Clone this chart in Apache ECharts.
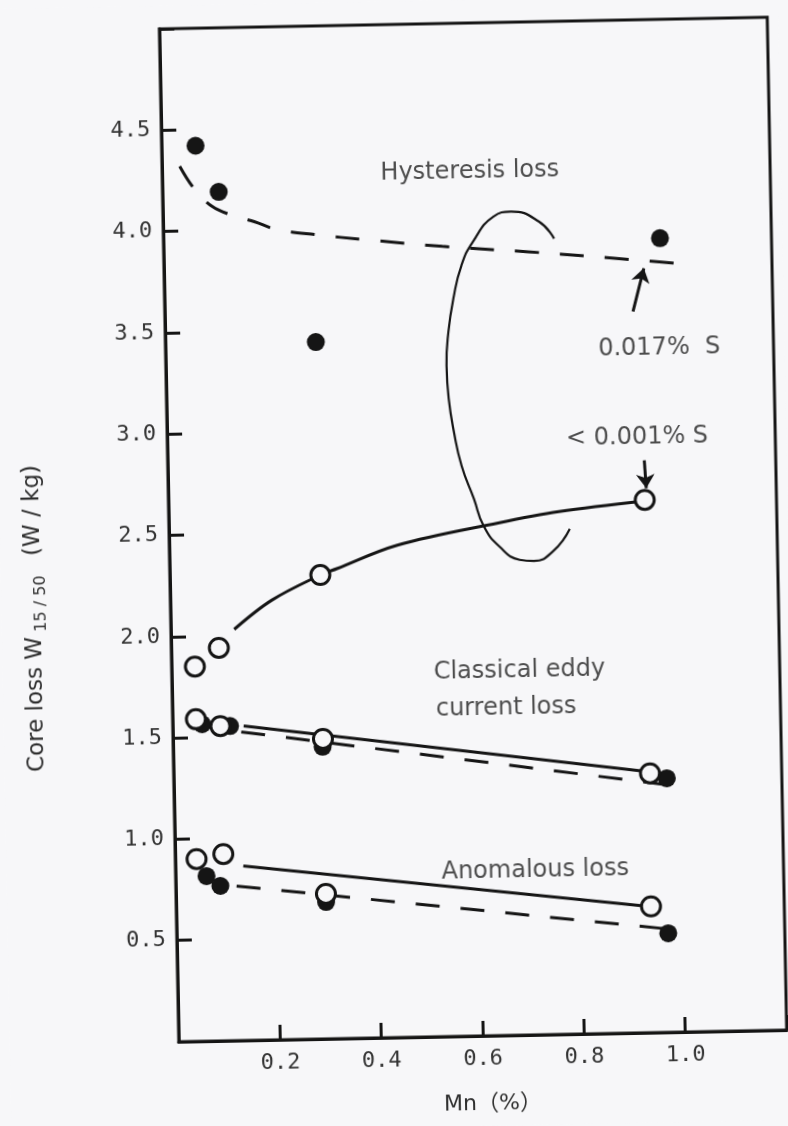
<!DOCTYPE html>
<html>
<head>
<meta charset="utf-8">
<script src="https://cdn.jsdelivr.net/npm/echarts@6/dist/echarts.min.js"></script>
<style>
  html, body { margin: 0; padding: 0; background: #f7f7f9; }
  /* the printed figure sits slightly tilted on the page */
  #chart { width: 788px; height: 1126px; transform: rotate(-1.1deg); transform-origin: 473px 529px; }
</style>
</head>
<body>
<div id="chart"></div>
<script>
// Axis ticks (Mn % and core loss W/kg)
const xTicks = [0.2, 0.4, 0.6, 0.8, 1.0];
const yTicks = [0.5, 1.0, 1.5, 2.0, 2.5, 3.0, 3.5, 4.0, 4.5];

// Measured points, 0.017% S (filled) and < 0.001% S (open): [Mn %, W/kg]
const hystHighS  = [[0.067, 4.42], [0.111, 4.19], [0.297, 3.44], [0.98, 3.92]];
const hystLowS   = [[0.046, 1.85], [0.094, 1.94], [0.297, 2.29], [0.940, 2.63]];
const eddyHighS  = [[0.058, 1.565], [0.113, 1.553], [0.295, 1.442], [0.973, 1.254]];
const eddyLowS   = [[0.046, 1.59], [0.094, 1.554], [0.296, 1.481], [0.940, 1.28]];
const anomHighS  = [[0.061, 0.815], [0.088, 0.765], [0.296, 0.676], [0.970, 0.489]];
const anomLowS   = [[0.042, 0.90], [0.095, 0.922], [0.296, 0.716], [0.937, 0.623]];

// Hand-drawn trend curves
const hystHighFit = [[0.035, 4.32], [0.062, 4.21], [0.097, 4.12], [0.14, 4.07], [0.18, 4.04],
                     [0.223, 4.0], [0.30, 3.97], [0.40, 3.94], [0.55, 3.90], [0.72, 3.865],
                     [0.85, 3.835], [1.03, 3.79]];
const hystLowFit  = [[0.125, 2.03], [0.2, 2.17], [0.297, 2.29], [0.33, 2.32], [0.45, 2.43],
                     [0.65, 2.53], [0.77, 2.58], [0.94, 2.625]];
const eddyLowFit  = [[0.14, 1.552], [0.94, 1.287]];
const eddyHighFit = [[0.135, 1.523], [0.973, 1.222]];
const anomLowFit  = [[0.134, 0.861], [0.937, 0.622]];
const anomHighFit = [[0.12, 0.763], [0.97, 0.51]];

// Loop grouping the two hysteresis curves
const hystBracket = [[0.771, 3.928], [0.742, 4.013], [0.687, 4.065], [0.652, 4.042],
                     [0.611, 3.921], [0.587, 3.803], [0.570, 3.641], [0.559, 3.479],
                     [0.554, 3.311], [0.557, 3.148], [0.566, 2.984], [0.580, 2.815],
                     [0.603, 2.651], [0.621, 2.517], [0.652, 2.412], [0.691, 2.346],
                     [0.719, 2.339], [0.758, 2.387], [0.791, 2.494]];

// Pointer arrows for the sulphur levels
const arrowHighS = [[0.924, 3.561], [0.947, 3.773]];
const arrowLowS  = [[0.9406, 2.825], [0.9435, 2.687]];

// Annotation texts and their anchors (left edge, middle)
const noteText = ['Hysteresis loss', '0.017%  S', '< 0.001% S', 'Classical eddy', 'current loss', 'Anomalous loss'];
const noteAt   = [[0.43, 4.265], [0.853, 3.375], [0.786, 2.94], [0.516, 1.80], [0.519, 1.615], [0.524, 0.81]];

const INK = '#151515';
const BG = '#f7f7f9';
const tickFont = { fontFamily: 'DejaVu Sans Mono', fontSize: 22, color: '#333333' };

function isTick(list, v) { return list.some(t => Math.abs(t - v) < 1e-6); }

function fitLine(data, dashed, z) {
  return {
    type: 'line', data: data, showSymbol: false, symbol: 'none', smooth: data.length > 2 ? 0.35 : false,
    lineStyle: { color: INK, width: 3, type: dashed ? [24, 21] : 'solid' },
    z: z || 2, silent: true, animation: false
  };
}
function dots(data, open) {
  return {
    type: 'scatter', data: data, symbol: 'circle',
    symbolSize: open ? 19 : 18,
    itemStyle: open ? { color: BG, borderColor: INK, borderWidth: 3, opacity: 1 } : { color: INK, opacity: 1 },
    z: open ? 5 : 4, silent: true, animation: false
  };
}
function arrow(coords) {
  return {
    type: 'lines', coordinateSystem: 'cartesian2d', polyline: false,
    data: [{ coords: coords }], symbol: ['none', 'arrow'], symbolSize: [9, 14],
    lineStyle: { color: INK, width: 3, opacity: 1, curveness: 0 },
    z: 6, silent: true, animation: false
  };
}

const chart = echarts.init(document.getElementById('chart'), null, { renderer: 'canvas' });
chart.setOption({
  backgroundColor: BG,
  animation: false,
  grid: { left: 169, right: 11, top: 23, bottom: 90, show: true, borderColor: INK, borderWidth: 3, backgroundColor: 'transparent' },
  xAxis: {
    type: 'value', min: 0, max: 1.2, interval: 0.2,
    axisLine: { show: true, onZero: false, lineStyle: { color: INK, width: 3 } },
    axisTick: { show: true, inside: true, length: 15, lineStyle: { color: INK, width: 3 } },
    axisLabel: Object.assign({ margin: 12, formatter: v => isTick(xTicks, v) ? v.toFixed(1) : '' }, tickFont),
    splitLine: { show: false }
  },
  yAxis: {
    type: 'value', min: 0, max: 5, interval: 0.5,
    axisLine: { show: true, onZero: false, lineStyle: { color: INK, width: 3 } },
    axisTick: { show: true, inside: true, length: 15, lineStyle: { color: INK, width: 3 } },
    axisLabel: Object.assign({ margin: 11, formatter: v => isTick(yTicks, v) ? v.toFixed(1) : '' }, tickFont),
    splitLine: { show: false }
  },
  series: [
    fitLine(hystHighFit, true),
    fitLine(hystLowFit, false),
    fitLine(eddyLowFit, false),
    fitLine(eddyHighFit, true),
    fitLine(anomLowFit, false),
    fitLine(anomHighFit, true),
    {
      type: 'line', data: hystBracket, showSymbol: false, symbol: 'none', smooth: 0.5,
      lineStyle: { color: INK, width: 2.2 }, z: 2, silent: true, animation: false
    },
    dots(hystHighS, false), dots(eddyHighS, false), dots(anomHighS, false),
    dots(hystLowS, true), dots(eddyLowS, true), dots(anomLowS, true),
    arrow(arrowHighS), arrow(arrowLowS),
    {
      type: 'scatter', symbol: 'circle', symbolSize: 1, itemStyle: { color: 'rgba(0,0,0,0)' },
      z: 7, silent: true, animation: false, clip: false,
      data: noteText.map((t, i) => ({ name: t, value: noteAt[i] })),
      label: {
        show: true, position: 'right', distance: 0, formatter: p => p.name,
        fontFamily: 'DejaVu Sans', fontSize: 24, color: '#222222'
      },
      labelLayout: { hideOverlap: false }
    }
  ],
  graphic: [
    {
      type: 'text', x: 33, y: 610, rotation: Math.PI / 2, silent: true,
      style: {
        text: '{a|Core loss W}{s| 15 / 50 }{a|  (W / kg)}',
        align: 'center', verticalAlign: 'middle',
        textAlign: 'center', textVerticalAlign: 'middle',
        rich: {
          a: { fontFamily: 'DejaVu Sans', fontSize: 23, fill: '#2e2e2e', color: '#2e2e2e', lineHeight: 30, verticalAlign: 'middle' },
          s: { fontFamily: 'DejaVu Sans', fontSize: 16, fill: '#2e2e2e', color: '#2e2e2e', lineHeight: 30, verticalAlign: 'bottom' }
        }
      }
    },
    {
      type: 'text', x: 482, y: 1104, silent: true,
      style: {
        text: 'Mn（%）',
        align: 'center', verticalAlign: 'middle',
        textAlign: 'center', textVerticalAlign: 'middle',
        font: '22px "DejaVu Sans", "Noto Sans CJK JP"', fill: '#2e2e2e'
      }
    }
  ]
});
</script>
</body>
</html>
